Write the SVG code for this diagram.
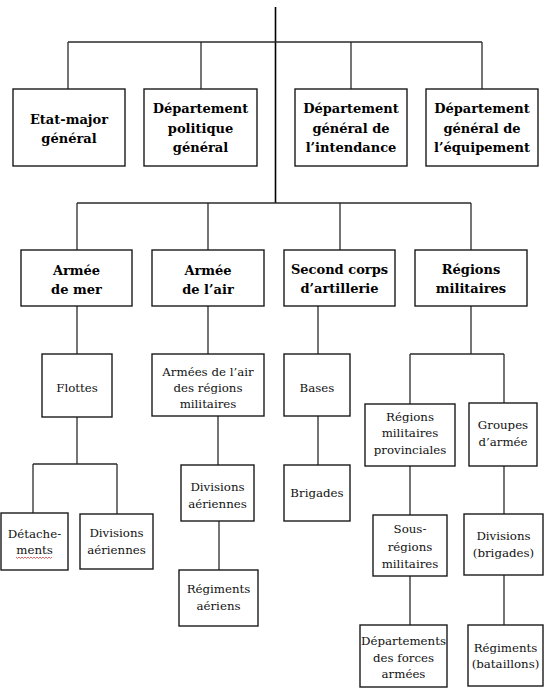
<svg xmlns="http://www.w3.org/2000/svg" width="554" height="690" viewBox="0 0 554 690">
<style>
.box{fill:#fff;stroke:#1a1a1a;stroke-width:1.4}
.con line{stroke:#2a2a2a;stroke-width:1.3}
text{font-family:'DejaVu Serif',serif;text-anchor:middle}
.b{font-weight:bold;font-size:13px;fill:#000}
.r{font-size:11.8px;fill:#111}
</style>
<rect width="554" height="690" fill="#fff"/>
<g class="con" id="connectors">
<line x1="275.5" y1="7" x2="275.5" y2="203" style="stroke:#000;stroke-width:1.6"/>
<line x1="68" y1="42" x2="482" y2="42"/>
<line x1="68" y1="42" x2="68" y2="89"/>
<line x1="201" y1="42" x2="201" y2="89"/>
<line x1="351" y1="42" x2="351" y2="89"/>
<line x1="482" y1="42" x2="482" y2="89"/>
<line x1="77" y1="203" x2="471" y2="203"/>
<line x1="77" y1="203" x2="77" y2="250"/>
<line x1="208" y1="203" x2="208" y2="250"/>
<line x1="340" y1="203" x2="340" y2="250"/>
<line x1="471" y1="203" x2="471" y2="250"/>
<line x1="77" y1="306" x2="77" y2="354"/>
<line x1="208" y1="306" x2="208" y2="354"/>
<line x1="318" y1="306" x2="318" y2="354"/>
<line x1="471" y1="306" x2="471" y2="354"/>
<line x1="410" y1="354" x2="504" y2="354"/>
<line x1="410" y1="354" x2="410" y2="404"/>
<line x1="504" y1="354" x2="504" y2="403"/>
<line x1="77" y1="417" x2="77" y2="464"/>
<line x1="33" y1="464" x2="117" y2="464"/>
<line x1="33" y1="464" x2="33" y2="513"/>
<line x1="117" y1="464" x2="117" y2="514"/>
<line x1="218" y1="416" x2="218" y2="465"/>
<line x1="219" y1="521" x2="219" y2="570"/>
<line x1="318" y1="416" x2="318" y2="465"/>
<line x1="410" y1="466" x2="410" y2="515"/>
<line x1="410" y1="576" x2="410" y2="625"/>
<line x1="504" y1="466" x2="504" y2="514"/>
<line x1="504" y1="575" x2="504" y2="625"/>
</g>
<g id="n-etat-major">
<rect class="box" x="13" y="89" width="112" height="77"/>
<text class="b" x="69" y="124">Etat-major</text>
<text class="b" x="69" y="143">général</text>
</g>
<g id="n-dep-politique">
<rect class="box" x="144" y="89" width="113" height="77"/>
<text class="b" x="200.5" y="113">Département</text>
<text class="b" x="200.5" y="133">politique</text>
<text class="b" x="200.5" y="152">général</text>
</g>
<g id="n-dep-intendance">
<rect class="box" x="295" y="89" width="112" height="77"/>
<text class="b" x="351" y="113">Département</text>
<text class="b" x="351" y="133">général de</text>
<text class="b" x="351" y="152">l’intendance</text>
</g>
<g id="n-dep-equipement">
<rect class="box" x="426" y="89" width="112" height="77"/>
<text class="b" x="482" y="113">Département</text>
<text class="b" x="482" y="133">général de</text>
<text class="b" x="482" y="152">l’équipement</text>
</g>
<g id="n-armee-mer">
<rect class="box" x="21" y="250" width="111" height="56"/>
<text class="b" x="76.5" y="275">Armée</text>
<text class="b" x="76.5" y="294">de mer</text>
</g>
<g id="n-armee-air">
<rect class="box" x="152" y="250" width="112" height="56"/>
<text class="b" x="208" y="275">Armée</text>
<text class="b" x="208" y="294">de l’air</text>
</g>
<g id="n-second-corps">
<rect class="box" x="284" y="250" width="111" height="56"/>
<text class="b" x="339.5" y="274">Second corps</text>
<text class="b" x="339.5" y="293">d’artillerie</text>
</g>
<g id="n-regions-militaires">
<rect class="box" x="415" y="250" width="112" height="56"/>
<text class="b" x="471" y="274">Régions</text>
<text class="b" x="471" y="293">militaires</text>
</g>
<g id="n-flottes">
<rect class="box" x="42" y="354" width="70" height="63"/>
<text class="r" x="77" y="392">Flottes</text>
</g>
<g id="n-armees-air-regions">
<rect class="box" x="152" y="354" width="112" height="62"/>
<text class="r" x="208" y="376">Armées de l’air</text>
<text class="r" x="208" y="392">des régions</text>
<text class="r" x="208" y="408">militaires</text>
</g>
<g id="n-bases">
<rect class="box" x="284" y="354" width="66" height="62"/>
<text class="r" x="317" y="392">Bases</text>
</g>
<g id="n-brigades">
<rect class="box" x="284" y="465" width="66" height="56"/>
<text class="r" x="317" y="497">Brigades</text>
</g>
<g id="n-regions-provinciales">
<rect class="box" x="365" y="404" width="90" height="62"/>
<text class="r" x="410" y="421">Régions</text>
<text class="r" x="410" y="437">militaires</text>
<text class="r" x="410" y="454">provinciales</text>
</g>
<g id="n-groupes-armee">
<rect class="box" x="469" y="403" width="68" height="63"/>
<text class="r" x="503" y="429">Groupes</text>
<text class="r" x="503" y="446">d’armée</text>
</g>
<g id="n-sous-regions">
<rect class="box" x="373" y="515" width="74" height="61"/>
<text class="r" x="410" y="533">Sous-</text>
<text class="r" x="410" y="551">régions</text>
<text class="r" x="410" y="568">militaires</text>
</g>
<g id="n-divisions-brigades">
<rect class="box" x="464" y="514" width="79" height="61"/>
<text class="r" x="503.5" y="540">Divisions</text>
<text class="r" x="503.5" y="557">(brigades)</text>
</g>
<g id="n-departements-forces">
<rect class="box" x="360" y="625" width="87" height="62"/>
<text class="r" x="403.5" y="645">Départements</text>
<text class="r" x="403.5" y="662">des forces</text>
<text class="r" x="403.5" y="678">armées</text>
</g>
<g id="n-regiments-bataillons">
<rect class="box" x="468" y="625" width="75" height="61"/>
<text class="r" x="505.5" y="652">Régiments</text>
<text class="r" x="505.5" y="668">(bataillons)</text>
</g>
<g id="n-detachements">
<rect class="box" x="1" y="513" width="67" height="57"/>
<text class="r" x="34.5" y="538">Détache-</text>
<text class="r" x="34.5" y="554">ments</text>
<polyline points="16,557 17.5,558.5 19,557 20.5,558.5 22,557 23.5,558.5 25,557 26.5,558.5 28,557 29.5,558.5 31,557 32.5,558.5 34,557 35.5,558.5 37,557 38.5,558.5 40,557 41.5,558.5 43,557 44.5,558.5 46,557 47.5,558.5 49,557 50.5,558.5 52,557" fill="none" stroke="#d04040" stroke-width="0.8"/>
</g>
<g id="n-divisions-aeriennes-mer">
<rect class="box" x="80" y="514" width="73" height="55"/>
<text class="r" x="116.5" y="537">Divisions</text>
<text class="r" x="116.5" y="554">aériennes</text>
</g>
<g id="n-divisions-aeriennes-air">
<rect class="box" x="181" y="465" width="73" height="56"/>
<text class="r" x="217.5" y="491">Divisions</text>
<text class="r" x="217.5" y="508">aériennes</text>
</g>
<g id="n-regiments-aeriens">
<rect class="box" x="179" y="570" width="79" height="56"/>
<text class="r" x="218.5" y="593">Régiments</text>
<text class="r" x="218.5" y="610">aériens</text>
</g>
</svg>
